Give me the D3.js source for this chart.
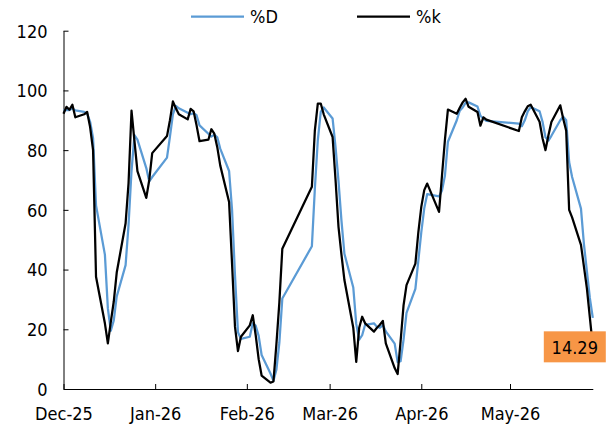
<!DOCTYPE html>
<html>
<head>
<meta charset="utf-8">
<script src="https://cdn.jsdelivr.net/npm/d3@7"></script>
<style>
  body { margin: 0; background: #fff; }
  svg text { font-family: "DejaVu Sans Condensed", "DejaVu Sans", sans-serif; font-stretch: condensed; }
</style>
</head>
<body>
<div class="center"></div>
<script>
// trading days and the two oscillator series
const dates = [
  "2025-12-01","2025-12-02","2025-12-03","2025-12-04","2025-12-05","2025-12-08","2025-12-09","2025-12-10",
  "2025-12-11","2025-12-12","2025-12-15","2025-12-16","2025-12-17","2025-12-18","2025-12-19","2025-12-22",
  "2025-12-23","2025-12-24","2025-12-25","2025-12-26","2025-12-29","2025-12-30","2025-12-31",
  "2026-01-05","2026-01-06","2026-01-07","2026-01-08","2026-01-09","2026-01-12","2026-01-13","2026-01-14",
  "2026-01-15","2026-01-16","2026-01-19","2026-01-20","2026-01-21","2026-01-22","2026-01-23","2026-01-26",
  "2026-01-27","2026-01-28","2026-01-29","2026-01-30",
  "2026-02-02","2026-02-03","2026-02-04","2026-02-05","2026-02-06","2026-02-09","2026-02-10","2026-02-11",
  "2026-02-12","2026-02-13","2026-02-23","2026-02-24","2026-02-25","2026-02-26","2026-02-27",
  "2026-03-02","2026-03-03","2026-03-04","2026-03-05","2026-03-06","2026-03-09","2026-03-10","2026-03-11",
  "2026-03-12","2026-03-13","2026-03-16","2026-03-17","2026-03-18","2026-03-19","2026-03-20","2026-03-23",
  "2026-03-24","2026-03-25","2026-03-26","2026-03-27","2026-03-30","2026-03-31",
  "2026-04-01","2026-04-02","2026-04-03","2026-04-07","2026-04-08","2026-04-09","2026-04-10","2026-04-13",
  "2026-04-14","2026-04-15","2026-04-16","2026-04-17","2026-04-20","2026-04-21","2026-04-22","2026-04-23",
  "2026-05-04","2026-05-05","2026-05-06","2026-05-07","2026-05-08","2026-05-11","2026-05-12","2026-05-13",
  "2026-05-14","2026-05-15","2026-05-18","2026-05-19","2026-05-20","2026-05-21","2026-05-22","2026-05-25",
  "2026-05-26","2026-05-27","2026-05-28","2026-05-29"
];

const kValues = [
  92.2,94.5,93.5,95.2,91.0,92.0,92.8,87.7,
  80.0,37.6,22.0,15.3,22.5,29.3,39.0,55.5,
  69.0,93.2,83.0,73.0,64.0,70.0,79.0,
  84.7,90.0,96.3,94.0,92.0,90.3,93.8,93.0,
  88.3,83.0,83.5,87.0,85.5,81.0,74.9,62.6,
  42.0,20.8,12.7,17.5,
  21.3,24.7,18.0,10.0,4.5,2.1,2.5,15.0,
  29.0,47.0,67.7,86.5,95.6,95.6,92.0,
  84.4,70.0,54.3,45.0,36.5,20.5,9.1,20.5,
  24.2,22.0,19.2,20.5,21.5,22.8,15.3,7.0,
  5.0,16.0,28.0,34.8,42.0,52.5,
  61.0,66.6,68.8,59.3,71.5,83.5,93.6,92.2,
  94.2,96.0,97.2,94.5,92.8,88.2,91.0,90.2,
  86.4,91.0,93.0,94.7,95.2,89.5,84.0,80.0,
  85.0,89.4,95.0,90.5,86.5,60.0,57.5,48.3,
  41.0,33.7,24.0,14.29
];

const dValues = [
  93.3,93.5,93.4,94.0,93.3,92.8,92.2,89.5,
  84.0,61.5,45.0,27.0,19.5,23.0,31.0,41.5,
  55.0,73.0,85.0,83.5,74.0,69.5,71.0,
  77.5,84.5,92.0,94.8,94.0,92.5,92.0,92.4,
  91.7,88.3,85.5,84.5,85.2,84.3,80.5,73.0,
  60.0,38.0,19.0,16.8,
  17.5,22.0,21.2,17.8,11.4,5.2,2.8,6.5,
  15.5,30.3,47.8,67.0,83.3,92.8,94.3,
  90.6,81.0,69.6,56.4,45.3,34.0,21.8,16.5,
  18.0,21.5,22.0,20.8,20.5,21.4,19.3,15.2,
  9.0,9.3,16.5,25.5,33.5,43.0,
  52.5,60.5,65.3,64.5,66.5,71.5,82.8,90.0,
  93.2,94.3,95.8,96.0,94.6,91.5,90.5,89.8,
  88.9,88.0,90.0,93.0,94.4,93.0,89.5,84.3,
  83.2,84.8,90.0,91.2,90.0,76.0,71.0,60.4,
  48.5,39.5,30.5,23.8
];

const monthTicks = ["2025-12-01","2026-01-01","2026-02-01","2026-03-01","2026-04-01","2026-05-01"];
const yTicks = [0, 20, 40, 60, 80, 100, 120];
const seriesNames = ["%D", "%k"];
const seriesColors = ["#5b9bd5", "#000000"];

const W = 609, H = 425;
const plot = {left: 63.5, right: 592.8, top: 30.7, bottom: 389};

const parseTime = d3.timeParse("%Y-%m-%d");
const data = dates.map((d, i) => ({date: parseTime(d), k: kValues[i], d: dValues[i]}));

const xScale = d3.scaleTime()
  .domain([data[0].date, data[data.length - 1].date])
  .range([plot.left, plot.right]);
const yScale = d3.scaleLinear()
  .domain([0, 120])
  .range([plot.bottom, plot.top]);

const svg = d3.select(".center").append("svg")
  .attr("width", W)
  .attr("height", H)
  .style("background", "#fff");

// axes
const xAxis = d3.axisBottom(xScale)
  .tickValues(monthTicks.map(parseTime))
  .tickFormat(d3.timeFormat("%b-%y"))
  .tickSizeInner(-5)
  .tickSizeOuter(0)
  .tickPadding(18);
const gx = svg.append("g")
  .attr("transform", `translate(0,${plot.bottom})`)
  .call(xAxis);

const yAxis = d3.axisLeft(yScale)
  .tickValues(yTicks)
  .tickSizeInner(-5)
  .tickSizeOuter(0)
  .tickPadding(16);
const gy = svg.append("g")
  .attr("transform", `translate(${plot.left},0)`)
  .call(yAxis);

[gx, gy].forEach(g => {
  g.attr("font-size", null).attr("font-family", null);
  g.selectAll("text").style("font-size", "18px").attr("fill", "#000");
  g.selectAll("path, line").attr("stroke", "#000").attr("stroke-width", 1);
});
gy.selectAll("text").attr("dy", "0.35em");

// lines
const lineD = d3.line().x(p => xScale(p.date)).y(p => yScale(p.d));
const lineK = d3.line().x(p => xScale(p.date)).y(p => yScale(p.k));

svg.append("path")
  .datum(data)
  .attr("fill", "none")
  .attr("stroke", seriesColors[0])
  .attr("stroke-width", 2.25)
  .attr("stroke-linejoin", "round")
  .attr("d", lineD);

svg.append("path")
  .datum(data)
  .attr("fill", "none")
  .attr("stroke", seriesColors[1])
  .attr("stroke-width", 2.25)
  .attr("stroke-linejoin", "round")
  .attr("d", lineK);

// legend
const legendX = [191, 357];
seriesNames.forEach((name, i) => {
  svg.append("line")
    .attr("x1", legendX[i]).attr("x2", legendX[i] + 53)
    .attr("y1", 16.7).attr("y2", 16.7)
    .attr("stroke", seriesColors[i])
    .attr("stroke-width", 2.25);
  svg.append("text")
    .attr("x", legendX[i] + 59)
    .attr("y", 16.7)
    .attr("dy", "0.35em")
    .style("font-size", "18px")
    .text(name);
});

// data label for the last %k value
const last = data[data.length - 1];
const lx = xScale(last.date), ly = yScale(last.k);
svg.append("rect")
  .attr("x", lx - 49)
  .attr("y", ly - 15)
  .attr("width", 62)
  .attr("height", 31)
  .attr("fill", "#f79646");
svg.append("text")
  .attr("x", lx - 18)
  .attr("y", ly + 1)
  .attr("dy", "0.35em")
  .attr("text-anchor", "middle")
  .style("font-size", "18px")
  .text(d3.format(".2f")(last.k));
</script>
</body>
</html>
